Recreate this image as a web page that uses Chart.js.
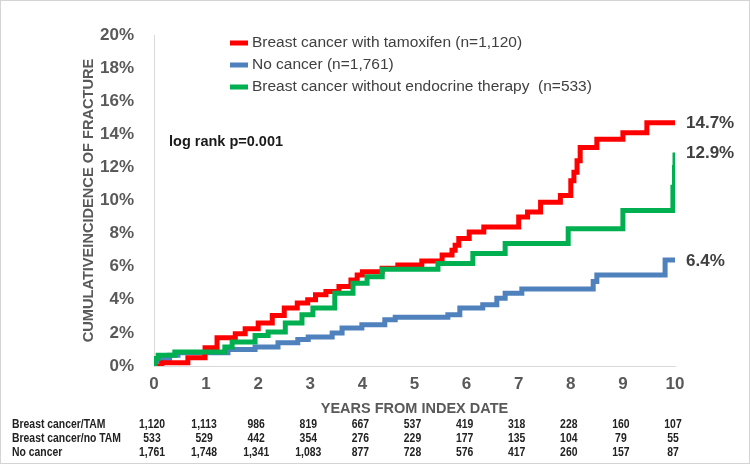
<!DOCTYPE html>
<html>
<head>
<meta charset="utf-8">
<script src="https://cdn.jsdelivr.net/npm/chart.js@4.4.1/dist/chart.umd.min.js"></script>
<style>
html, body { margin: 0; padding: 0; background: #fff; }
#wrap { position: relative; width: 750px; height: 464px; }
#frame { position: absolute; left: 0; top: 0; right: 0; bottom: 0; border: 1px solid #d4d4d4; pointer-events: none; }
</style>
</head>
<body>
<div id="wrap"><canvas id="kmChart" width="750" height="464"></canvas><div id="frame"></div></div>
<script>
const FONT = "'Liberation Sans', Arial, sans-serif";

// cumulative incidence (%) step points, years from index date
const tamYears = [0, 0.15, 0.65, 0.98, 1.21, 1.56, 1.75, 2.0, 2.27, 2.5, 2.75, 2.95, 3.1, 3.3, 3.55, 3.78, 3.9, 4.0, 4.38, 4.68, 5.14, 5.53, 5.72, 5.78, 5.85, 6.05, 6.33, 7.0, 7.17, 7.42, 7.8, 8.0, 8.06, 8.12, 8.18, 8.5, 9.0, 9.46, 10];
const tamPct   = [0, 0.2, 0.5, 1.1, 1.7, 1.95, 2.25, 2.6, 3.05, 3.5, 3.8, 4.0, 4.3, 4.5, 4.8, 5.2, 5.5, 5.7, 5.9, 6.1, 6.35, 6.7, 7.0, 7.3, 7.7, 8.1, 8.4, 9.0, 9.3, 9.9, 10.3, 11.2, 11.7, 12.4, 13.2, 13.7, 14.1, 14.7, 14.7];

const noYears = [0, 0.02, 0.15, 0.3, 0.46, 1.42, 1.94, 2.38, 2.76, 2.96, 3.42, 3.61, 3.99, 4.43, 4.63, 5.64, 5.87, 6.31, 6.58, 6.74, 7.06, 8.43, 8.5, 9.81, 10];
const noPct   = [0, 0.3, 0.45, 0.65, 0.8, 1.0, 1.15, 1.4, 1.6, 1.75, 2.0, 2.3, 2.5, 2.8, 2.95, 3.1, 3.5, 3.7, 4.1, 4.4, 4.65, 5.1, 5.5, 6.4, 6.4];

const nonYears = [0, 0.02, 0.08, 0.4, 1.36, 1.5, 1.94, 2.19, 2.52, 2.84, 3.05, 3.47, 3.82, 4.09, 4.38, 5.45, 6.12, 6.74, 7.95, 9.0, 9.96, 9.99, 10];
const nonPct   = [0, 0.45, 0.65, 0.85, 1.15, 1.45, 1.85, 2.05, 2.6, 3.1, 3.5, 4.4, 5.0, 5.4, 5.85, 6.2, 6.8, 7.4, 8.3, 9.4, 10.8, 12.0, 12.9];

const legendNames = ['Breast cancer with tamoxifen (n=1,120)', 'No cancer (n=1,761)', 'Breast cancer without endocrine therapy  (n=533)'];

// numbers at risk
const riskYears = [0, 1, 2, 3, 4, 5, 6, 7, 8, 9, 10];
const riskLabels = ['Breast cancer/TAM', 'Breast cancer/no TAM', 'No cancer'];
const tamRisk = ['1,120', '1,113', '986', '819', '667', '537', '419', '318', '228', '160', '107'];
const nonRisk = ['533', '529', '442', '354', '276', '229', '177', '135', '104', '79', '55'];
const noRisk  = ['1,761', '1,748', '1,341', '1,083', '877', '728', '576', '417', '260', '157', '87'];

const RED = '#ff0000', BLUE = '#4f81bd', GREEN = '#00b050';

const pts = (xs, ys) => xs.map((t, i) => ({ x: t, y: ys[i] }));
const stepLine = (label, xs, ys, color) => ({
    label, data: pts(xs, ys), borderColor: color, backgroundColor: color,
    borderWidth: 5, stepped: 'before', pointRadius: 0, fill: false,
    borderJoinStyle: 'miter', borderCapStyle: 'butt'
});

function condensedText(ctx, text, x, y, sx) {
    ctx.save();
    ctx.translate(x, y);
    ctx.scale(sx, 1);
    ctx.fillText(text, 0, 0);
    ctx.restore();
}

const extras = {
    id: 'extras',
    afterDraw(chart) {
        const { ctx, scales: { x, y } } = chart;
        ctx.save();
        ctx.textBaseline = 'middle';

        // legend
        const lc = [RED, BLUE, GREEN];
        ctx.font = '15.5px ' + FONT;
        legendNames.forEach((name, i) => {
            const ly = 43 + i * 22;
            ctx.fillStyle = lc[i];
            ctx.fillRect(230, ly - 2.5, 18, 5);
            ctx.fillStyle = '#404040';
            ctx.textAlign = 'left';
            ctx.fillText(name, 252, ly);
        });

        // log rank
        ctx.font = 'bold 14.5px ' + FONT;
        ctx.fillStyle = '#1a1a1a';
        ctx.fillText('log rank p=0.001', 169, 142);

        // end values
        ctx.font = 'bold 17px ' + FONT;
        ctx.fillStyle = '#404040';
        [tamPct, nonPct, noPct].forEach(arr => {
            const v = arr[arr.length - 1];
            ctx.fillText(v.toFixed(1) + '%', x.right + 11, y.getPixelForValue(v) + 1);
        });

        // numbers at risk table
        ctx.font = 'bold 13px ' + FONT;
        ctx.fillStyle = '#222';
        const rows = [tamRisk, nonRisk, noRisk];
        rows.forEach((row, r) => {
            const ry = 424 + r * 14.2;
            ctx.textAlign = 'left';
            condensedText(ctx, riskLabels[r], 12, ry, 0.8);
            ctx.textAlign = 'center';
            row.forEach((n, i) => condensedText(ctx, n, x.getPixelForValue(riskYears[i]) - 2, ry, 0.8));
        });
        ctx.restore();
    }
};

new Chart(document.getElementById('kmChart').getContext('2d'), {
    type: 'line',
    data: {
        datasets: [
            stepLine(legendNames[2], nonYears, nonPct, GREEN),
            stepLine(legendNames[0], tamYears, tamPct, RED),
            stepLine(legendNames[1], noYears, noPct, BLUE)
        ]
    },
    options: {
        responsive: false, animation: false,
        layout: { padding: { left: 76, right: 75, top: 35, bottom: 44 } },
        plugins: { legend: { display: false }, tooltip: { enabled: false } },
        scales: {
            x: {
                type: 'linear', min: 0, max: 10,
                afterFit(scale) { scale.height = 54; },
                grid: { display: false, drawTicks: false },
                border: { display: true, color: '#d9d9d9', width: 1 },
                ticks: { stepSize: 1, padding: 8, color: '#595959', font: { size: 17, weight: 'bold', family: FONT } },
                title: { display: true, text: 'YEARS FROM INDEX DATE', color: '#595959', font: { size: 14.5, weight: 'bold', family: FONT }, padding: { top: 0, bottom: 2 } }
            },
            y: {
                min: 0, max: 20,
                afterFit(scale) { scale.width = 78; },
                grid: { display: false, drawTicks: false },
                border: { display: true, color: '#d9d9d9', width: 1 },
                ticks: { stepSize: 2, padding: 20, color: '#595959', font: { size: 17, weight: 'bold', family: FONT }, callback: v => v + '%' },
                title: { display: true, text: 'CUMULATIVEINCIDENCE OF FRACTURE', color: '#595959', font: { size: 14.6, weight: 'bold', family: FONT }, padding: { top: 4, bottom: 0 } }
            }
        }
    },
    plugins: [extras]
});
</script>
</body>
</html>
